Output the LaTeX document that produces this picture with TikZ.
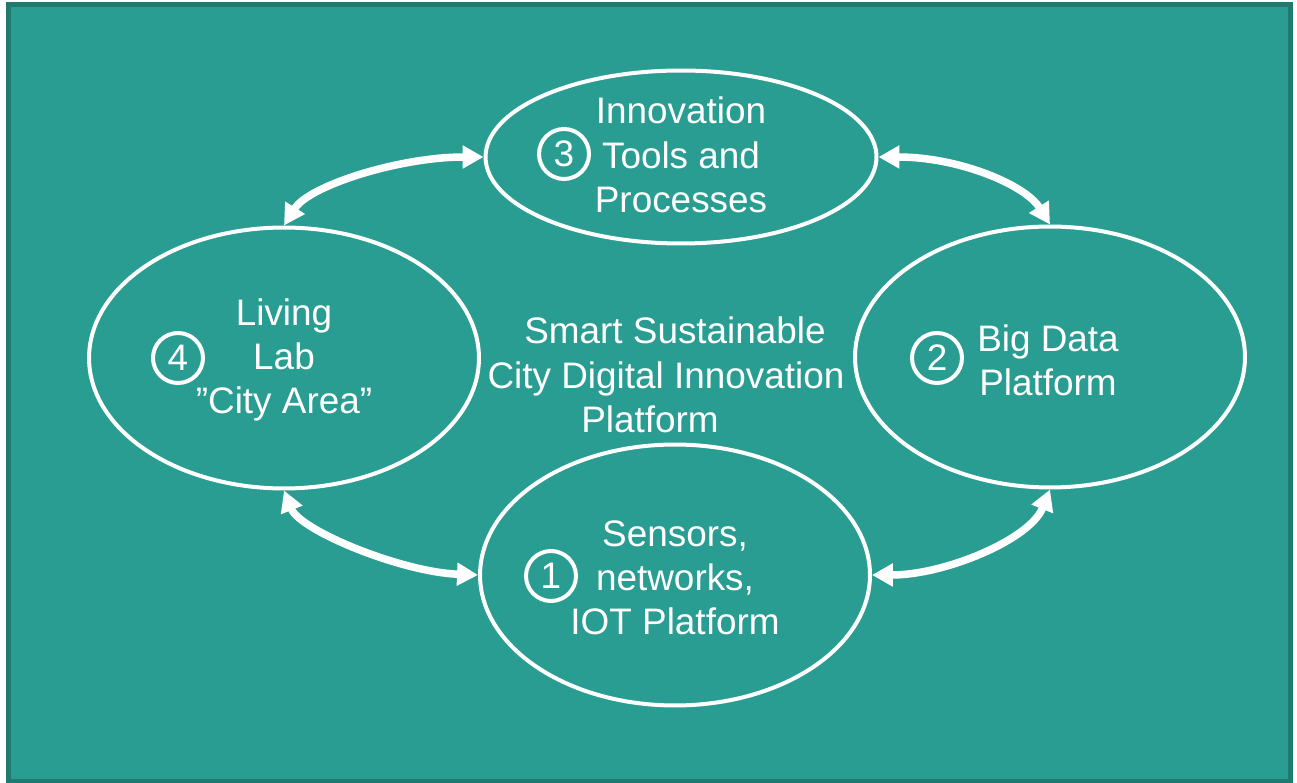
\documentclass[tikz,border=0pt]{standalone}
\usepackage{fontspec}
\setmainfont{Liberation Sans}
\usepackage{tikz}
\usetikzlibrary{shapes}
\usetikzlibrary{positioning}
\usetikzlibrary{arrows.meta}
\definecolor{tealbg}{RGB}{41,157,146}
\definecolor{tealdark}{RGB}{31,122,112}
\tikzset{
    bubble/.style = {ellipse, draw=white, line width=0.08cm, minimum width=7.8cm, minimum height=5.22cm, inner sep=0pt},
    bubblet/.style = {bubble, minimum width=7.82cm, minimum height=3.46cm},
    numc/.style = {circle, draw=white, line width=0.08cm, minimum size=1cm, inner sep=0pt, text=white, font=\fontsize{21}{25.2}\selectfont},
    txt/.style = {align=center, text=white, inner sep=0pt, font=\fontsize{21}{25.2}\selectfont},
    edgew/.style = {{Triangle[length=0.42cm,width=0.44cm]}-{Triangle[length=0.42cm,width=0.44cm]}, line width=0.15cm, white},
}

\begin{document}
\begin{tikzpicture}[x=0.02cm,y=-0.02cm]
\useasboundingbox (0,0) rectangle (1297,783);
\draw[tealdark, fill=tealbg, line width=0.1cm] (8.5,4.5) rectangle (1290.5,781);
%
\node[bubblet] at (681,157) (e3) {};
\node[bubble] at (284,358) (e4) {};
\node[bubble] at (1050,357) (e2) {};
\node[bubble] at (675,575) (e1) {};
%
\node[txt] at (681,155) (t3) {Innovation\\Tools and\\Processes};
\node[txt] at (284,360) (t4) {Living\\Lab\\”City Area”};
\node[txt] at (1048,360) (t2) {Big Data\\Platform};
\node[txt] at (675,578) (t1) {Sensors,\\networks,\\IOT Platform};
\node[txt] at (666,375) (mid) {\hspace*{0.36cm}Smart Sustainable\\City Digital Innovation\\Platform\hspace*{0.64cm}};
%
\node[numc] at (564,154) (n3) {3};
\node[numc] at (178,358) (n4) {4};
\node[numc] at (937,358) (n2) {2};
\node[numc] at (551,576) (n1) {1};
%
\draw[edgew] (e3.west) .. controls +(-84,0) and +(25,-40) .. (e4.north);
\draw[edgew] (e3.east) .. controls +(80,0) and +(-25,-40) .. (e2.north);
\draw[edgew] (e4.south) .. controls +(16,40) and +(-77,-3) .. (e1.west);
\draw[edgew] (e1.east) .. controls +(73,0) and +(-20,50) .. (e2.south);

\end{tikzpicture}
\end{document}
